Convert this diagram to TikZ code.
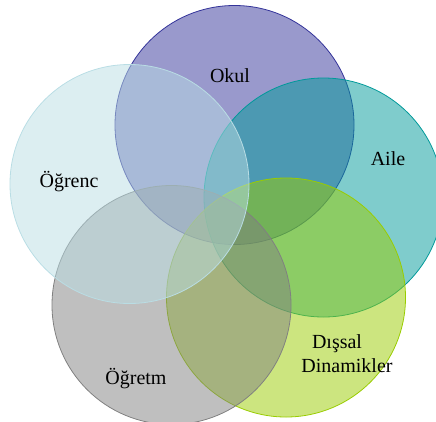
\documentclass[tikz,border=0pt]{standalone}
\usepackage{fontspec}
\setmainfont{Liberation Serif}
\definecolor{cokul}{RGB}{51,51,153}
\definecolor{caile}{RGB}{0,153,153}
\definecolor{cdis}{RGB}{153,204,0}
\definecolor{cogretm}{RGB}{128,128,128}
\definecolor{cogrenc}{RGB}{185,221,228}
\tikzset{
  venn/.style={circle, inner sep=0pt, outer sep=0pt, minimum size=239pt, line width=0.8pt, fill opacity=0.5, draw=#1, fill=#1},
  lbl/.style={font=\fontsize{20}{24}\selectfont, text=black, inner sep=0pt, align=center}
}
\begin{document}
\begin{tikzpicture}[x=1pt, y=-1pt]
\useasboundingbox (0,0) rectangle (436,421);
\node[venn=cokul] (okul) at (234.5,125) {};
\node[venn=caile] (aile) at (323.5,197.5) {};
\node[venn=cdis] (dis) at (286,297.5) {};
\node[venn=cogretm] (ogretm) at (171.5,305) {};
\node[venn=cogrenc] (ogrenc) at (129.5,184) {};
\node[lbl] (tokul) at (230,76) {Okul};
\node[lbl] (taile) at (388,159) {Aile};
\node[lbl] (togrenc) at (69,182) {Öğrenc};
\node[lbl] (tdis) at (347,354) {Dışsal\hspace*{20pt}\\Dinamikler};
\node[lbl] (togretm) at (136,379) {Öğretm};
\end{tikzpicture}
\end{document}
